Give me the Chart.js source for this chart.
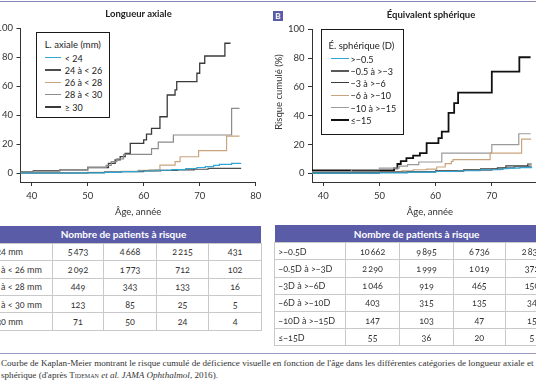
<!DOCTYPE html>
<html><head><meta charset="utf-8">
<script src="https://cdn.jsdelivr.net/npm/chart.js@4"></script>
<style>
html,body{margin:0;padding:0;background:#fff;}
#wrap{position:relative;width:536px;height:386px;overflow:hidden;font-family:Lato,"Noto Sans",sans-serif;color:#333;}
canvas{position:absolute;top:0;}
#c1{left:0;}
#c2{left:266px;}
.rule{position:absolute;left:0;width:536px;height:1px;background:#8486b9;}
.ctitle{position:absolute;font-weight:bold;font-size:9.5px;color:#222;transform:translate(-50%,-50%);white-space:nowrap;}
.ytitle{position:absolute;font-size:9.5px;color:#333;white-space:nowrap;transform:translate(-50%,-50%) rotate(-90deg);}
.badge{position:absolute;background:#5b5ca7;color:#fff;font-weight:bold;font-size:8px;text-align:center;line-height:10.5px;}
.legend{position:absolute;border:1.5px solid #1a1a1a;background:#fff;box-sizing:border-box;font-size:9px;color:#222;}
.legend div{position:absolute;white-space:nowrap;transform:translateY(-50%);}
.legend .sw{height:0;transform:none;}
table{position:absolute;border-collapse:collapse;table-layout:fixed;font-size:9px;color:#333;font-variant-numeric:oldstyle-nums;}
th{background:#5b5ca7;color:#fff;font-weight:bold;font-size:10px;padding:0;text-align:center;}
td{border:1px solid #c9c9c9;padding:0;text-align:center;white-space:nowrap;overflow:hidden;}
td.lab{text-align:left;padding-left:3px;}
.cap{position:absolute;left:1px;font-family:"Liberation Serif",serif;font-size:9.1px;color:#333;white-space:nowrap;transform:translateY(-50%);}
.sc{font-variant:small-caps;}
</style></head>
<body><div id="wrap">
<div class="rule" style="top:1px"></div>
<canvas id="c1" width="270" height="218"></canvas>
<canvas id="c2" width="300" height="218"></canvas>
<div class="ctitle" style="left:138.5px;top:12.5px">Longueur axiale</div>
<div class="ctitle" style="left:431px;top:14px">Équivalent sphérique</div>
<div class="badge" style="left:273px;top:10.5px;width:10px;height:10.5px">B</div>
<div class="ytitle" style="left:278px;top:91.5px">Risque cumulé (%)</div>
<div id="leg1" class="legend" style="left:35.7px;top:31.7px;width:74.3px;height:86.6px"></div>
<div id="leg2" class="legend" style="left:321px;top:29.3px;width:83.3px;height:105.7px"></div>
<table id="t1" style="left:-15px;top:226px;width:276px"></table>
<table id="t2" style="left:274.3px;top:225px;width:283.7px"></table>
<div class="rule" style="top:353px;background:#9a9cc6"></div>
<div class="cap" style="top:363.3px">Courbe de Kaplan-Meier montrant le risque cumulé de déficience visuelle en fonction de l'âge dans les différentes catégories de longueur axiale et</div>
<div class="cap" style="top:375px">sphérique (d'après <span class="sc">Tideman</span> <i>et al. JAMA Ophthalmol</i>, 2016).</div>
</div>
<script>
// ---- axis ticks ----
const ageTicks = [40, 50, 60, 70, 80];
const riskTicks = [0, 20, 40, 60, 80, 100];

// ---- panel A: axial length ----
const axialTitle = 'L. axiale (mm)';
const axialLabels = ['< 24', '24 à < 26', '26 à < 28', '28 à < 30', '≥ 30'];
const axAge1 = [38, 48, 53, 56, 59, 62, 65, 67.5, 69.5, 71, 72.5, 73.5, 75.7, 77.4];
const axRisk1 = [0.1, 0.3, 0.7, 1.1, 1.6, 2.1, 2.6, 3.3, 4.0, 4.6, 5.4, 6.2, 6.9, 6.9];
const axAge2 = [38, 50, 53, 56, 60, 63, 66, 69, 71.5, 77.4];
const axRisk2 = [0.2, 0.5, 0.8, 1.2, 1.6, 2.0, 2.4, 2.8, 3.4, 3.4];
const axAge3 = [38, 50, 53, 56, 59, 61, 62.9, 65.6, 66.5, 69.8, 74.8, 77.1];
const axRisk3 = [0.3, 0.6, 1.0, 1.4, 2.0, 2.4, 5.7, 8.0, 11.4, 15.6, 25.7, 25.7];
const axAge4 = [38, 40.3, 45, 50, 53.3, 54.2, 55.2, 56.4, 61.4, 62.6, 65.3, 75.7, 77.1];
const axRisk4 = [1.0, 1.5, 2.6, 4.1, 5.5, 8.0, 10.0, 13.0, 17.0, 21.5, 26.4, 44.8, 44.8];
const axAge5 = [38, 40.3, 45, 50, 53.7, 54.9, 55.8, 56.7, 57.6, 60, 60.5, 61.4, 62.9, 64.2, 65.6, 65.9, 69.5, 70, 70.9, 74.5, 75.5];
const axRisk5 = [1.0, 1.8, 2.3, 4.0, 6.9, 9.2, 11.5, 13.8, 20.7, 23, 27, 31, 39, 54, 57.5, 63.2, 69, 75.9, 80.9, 89.7, 89.7];

// ---- panel B: spherical equivalent ----
const sphTitle = 'É. sphérique (D)';
const sphLabels = ['>−0.5', '−0.5 à >−3', '−3 à >−6', '−6 à >−10', '−10 à >−15', '≤−15'];
const spAge1 = [38, 50, 55, 60, 64, 68, 71.5, 73, 75, 77.1];
const spRisk1 = [0.1, 0.4, 0.8, 1.3, 1.8, 2.5, 3.2, 3.7, 4.0, 4.3];
const spAge2 = [38, 50, 55, 60, 65, 70, 72, 74, 76.5, 77.1];
const spRisk2 = [0.2, 0.6, 1.0, 1.5, 2.2, 3.0, 3.8, 4.6, 5.0, 5.0];
const spAge3 = [38, 50, 55, 60, 65, 68, 71, 72.5, 76.4, 77.1];
const spRisk3 = [0.3, 0.8, 1.2, 1.8, 2.5, 3.2, 3.8, 5.2, 6.5, 6.5];
const spAge4 = [38, 50, 54, 56, 58.4, 60.2, 61.7, 62.8, 63.1, 69.7, 75.3, 77.0];
const spRisk4 = [0.5, 1.0, 1.8, 2.5, 3.0, 4.4, 6.7, 8.3, 9.5, 14.1, 23.8, 23.8];
const spAge5 = [38, 45, 50, 53.5, 55, 57, 61.1, 70, 74.8, 76.9];
const spRisk5 = [1.0, 2.6, 3.7, 5.0, 6.0, 7.9, 14.1, 19.9, 27.5, 27.5];
const spAge6 = [38, 52.6, 53.2, 53.8, 54.8, 56.0, 57.2, 58.4, 60.5, 61.1, 62.3, 63.3, 64.0, 70.0, 74.9, 76.9];
const spRisk6 = [2.0, 3.5, 6.5, 8.5, 10.6, 12.3, 14.1, 21, 24.5, 29, 42, 48.7, 56.1, 70.6, 80.6, 80.6];

// ---- numbers at risk ----
const atRiskHeader = 'Nombre de patients à risque';
const axialRowLabels = ['< 24 mm', '24 à < 26 mm', '26 à < 28 mm', '28 à < 30 mm', '≥ 30 mm'];
const axialAtRisk = [[5473, 4668, 2215, 431], [2092, 1773, 712, 102], [449, 343, 133, 16], [123, 85, 25, 5], [71, 50, 24, 4]];
const sphRowLabels = ['>−0.5D', '−0.5D à >−3D', '−3D à >−6D', '−6D à >−10D', '−10D à >−15D', '≤−15D'];
const sphAtRisk = [[10662, 9895, 6736, 2833], [2290, 1999, 1019, 372], [1046, 919, 465, 150], [403, 315, 135, 34], [147, 103, 47, 15], [55, 36, 20, 5]];

// ---- styles ----
const axialColors = ['#2fa6d6', '#4d4d4d', '#c9a47e', '#8c8c8c', '#3a3a3a'];
const axialWidths = [1.2, 1.2, 1.2, 1.2, 1.3];
const axialLegW = [1.5, 2, 1.5, 1.5, 2];
const sphColors = ['#2fa6d6', '#5a5a5a', '#3c3c3c', '#c9a47e', '#9a9a9a', '#111111'];
const sphWidths = [1.2, 1.2, 1.2, 1.2, 1.2, 1.8];
const sphLegW = [1.5, 2, 1.5, 1.5, 1.5, 2];

Chart.defaults.font.family = 'Lato';
const series = (ages, risks) => ages.map((a, i) => ({ x: a, y: risks[i] }));
const axialSeries = [[axAge1, axRisk1], [axAge2, axRisk2], [axAge3, axRisk3], [axAge4, axRisk4], [axAge5, axRisk5]];
const sphSeries = [[spAge1, spRisk1], [spAge2, spRisk2], [spAge3, spRisk3], [spAge4, spRisk4], [spAge5, spRisk5], [spAge6, spRisk6]];

function makeChart(id, labels, ser, colors, widths, o) {
  const datasets = ser.map((s, i) => ({
    label: labels[i], data: series(s[0], s[1]), borderColor: colors[i], borderWidth: widths[i],
    stepped: true, pointRadius: 0, fill: false, tension: 0
  }));
  const axisFont = { family: 'Lato', size: 9.5 };
  return new Chart(document.getElementById(id), {
    type: 'line',
    data: { datasets },
    options: {
      responsive: false, animation: false, devicePixelRatio: 1,
      layout: { padding: { top: o.top, right: o.right, left: 0, bottom: 0 } },
      plugins: { legend: { display: false }, title: { display: false }, tooltip: { enabled: false } },
      scales: {
        x: {
          type: 'linear', min: 38, max: 80,
          afterBuildTicks: s => { s.ticks = ageTicks.map(v => ({ value: v })); },
          afterFit: s => { s.height = 36; },
          grid: { drawOnChartArea: false, drawTicks: true, tickLength: 4, color: '#333' },
          border: { display: true, color: '#333', width: 1 },
          ticks: { font: axisFont, color: '#333', padding: 4, maxRotation: 0, autoSkip: false },
          title: { display: true, text: 'Âge, année', font: axisFont, color: '#333', padding: 0 }
        },
        y: {
          type: 'linear', min: -6, max: 100,
          afterBuildTicks: s => { s.ticks = riskTicks.map(v => ({ value: v })); },
          afterFit: s => { s.width = o.yw; },
          grid: { drawOnChartArea: false, drawTicks: true, tickLength: 4, color: '#333' },
          border: { display: true, color: '#333', width: 1 },
          ticks: { font: axisFont, color: '#333', padding: 3.5, autoSkip: false }
        }
      }
    }
  });
}
makeChart('c1', axialLabels, axialSeries, axialColors, axialWidths, { top: 28.3, right: 14.3, yw: 20.5 });
makeChart('c2', sphLabels, sphSeries, sphColors, sphWidths, { top: 29.3, right: 18, yw: 46 });

function buildLegend(id, title, labels, colors, lw, g) {
  const el = document.getElementById(id);
  let h = `<div style="left:${g.tx}px;top:${g.ty}px;font-size:9.5px">${title}</div>`;
  labels.forEach((l, i) => {
    const y = g.y0 + g.dy * i;
    h += `<div class="sw" style="left:${g.sx}px;top:${y - lw[i] / 2}px;width:${g.sw}px;border-top:${lw[i]}px solid ${colors[i]}"></div>`;
    h += `<div style="left:${g.lx}px;top:${y}px">${l}</div>`;
  });
  el.innerHTML = h;
}
buildLegend('leg1', axialTitle, axialLabels, axialColors, axialLegW, { tx: 8, ty: 11.2, sx: 8, sw: 16.5, lx: 28, y0: 25.5, dy: 12.1 });
buildLegend('leg2', sphTitle, sphLabels, sphColors, sphLegW, { tx: 6.5, ty: 15.2, sx: 8.5, sw: 18, lx: 28.5, y0: 28.5, dy: 12.2 });

const fmt = n => n >= 1000 ? String(n).replace(/\B(?=(\d{3})+(?!\d))/g, '\u2009') : String(n);
function buildTable(id, rowLabels, rows, cols, hh, rh) {
  let h = '<colgroup>' + cols.map(w => `<col style="width:${w}px">`).join('') + '</colgroup>';
  h += `<tr style="height:${hh}px"><th colspan="5">${atRiskHeader}</th></tr>`;
  rows.forEach((r, i) => {
    h += `<tr style="height:${rh}px"><td class="lab">${rowLabels[i]}</td>` + r.map(v => `<td>${fmt(v)}</td>`).join('') + '</tr>';
  });
  document.getElementById(id).innerHTML = h;
}
buildTable('t1', axialRowLabels, axialAtRisk, [66.7, 51.6, 52.7, 52.3, 52.7], 17.3, 17.4);
buildTable('t2', sphRowLabels, sphAtRisk, [70.7, 54.3, 53.4, 52.3, 53], 17.7, 17.2);
</script>
</body></html>
